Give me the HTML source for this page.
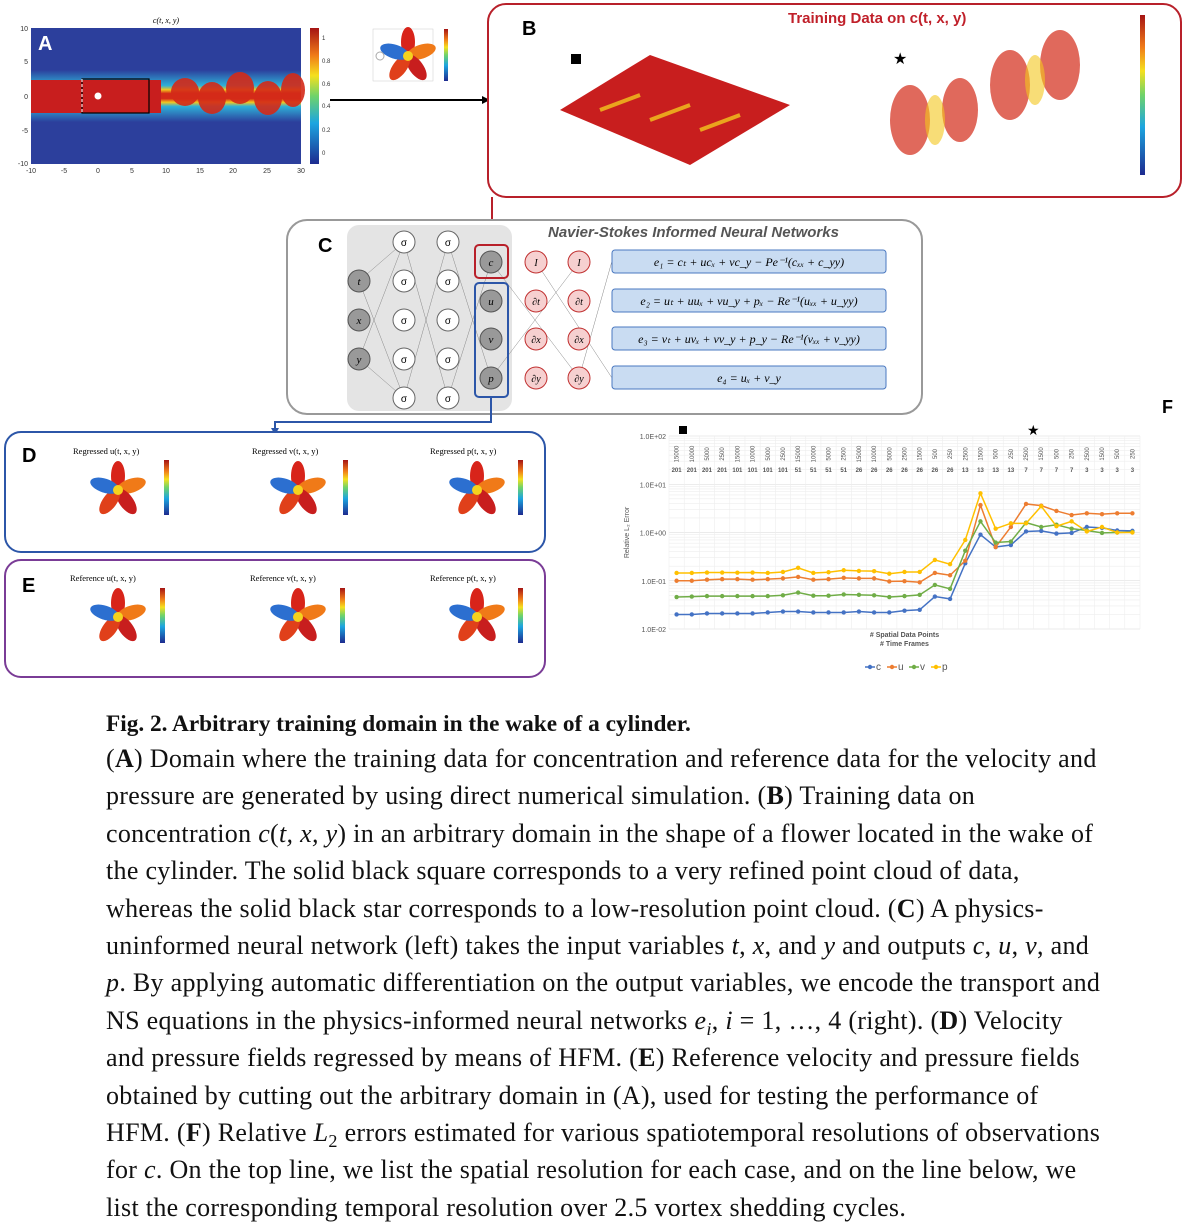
<!DOCTYPE html>
<html><head><meta charset="utf-8"><style>
body{margin:0;width:1193px;height:1222px;background:#fff;position:relative;overflow:hidden;font-family:"Liberation Sans",sans-serif}
.abs{position:absolute}
.cap{position:absolute;left:106px;top:709px;width:1000px;font-family:"Liberation Serif",serif;font-size:26px;letter-spacing:0.3px;line-height:37.4px;color:#111}
.cap .ttl{font-size:23.3px;letter-spacing:0;line-height:31px;font-weight:bold}
.cap .sb{position:relative;top:6px;font-size:70%;line-height:0}
</style></head><body>
<svg class="abs" style="left:0;top:0" width="1193" height="700" viewBox="0 0 1193 700">
<defs>
<linearGradient id="jet" x1="0" y1="1" x2="0" y2="0"><stop offset="0" stop-color="#1d2a8f"/><stop offset=".3" stop-color="#1ca5e0"/><stop offset=".5" stop-color="#6fd36a"/><stop offset=".65" stop-color="#f5e01e"/><stop offset=".8" stop-color="#f07a18"/><stop offset="1" stop-color="#a51414"/></linearGradient>
<linearGradient id="wake" x1="0" y1="0" x2="0" y2="1"><stop offset="0" stop-color="#2c3f9c"/><stop offset=".3" stop-color="#2fb0d8"/><stop offset=".38" stop-color="#f3c61d"/><stop offset=".45" stop-color="#d42a18"/><stop offset=".55" stop-color="#d42a18"/><stop offset=".62" stop-color="#f3c61d"/><stop offset=".7" stop-color="#2fb0d8"/><stop offset="1" stop-color="#2c3f9c"/></linearGradient>
<g id="flower"><ellipse cx="0" cy="-14" rx="7" ry="15" fill="#d8241a"/><ellipse cx="0" cy="-14" rx="7" ry="15" fill="#f07a18" transform="rotate(72)"/><ellipse cx="0" cy="-14" rx="7" ry="15" fill="#c81e1e" transform="rotate(144)"/><ellipse cx="0" cy="-14" rx="7" ry="15" fill="#e0401a" transform="rotate(216)"/><ellipse cx="0" cy="-14" rx="7" ry="15" fill="#2c6fd0" transform="rotate(288)"/><circle r="5" fill="#f5d21e"/></g>
</defs>
<g>
<rect x="31" y="28" width="270" height="136" fill="#2c3f9c"/>
<rect x="31" y="70" width="270" height="52" fill="url(#wake)"/>
<rect x="31" y="80" width="130" height="33" fill="#c81e1e"/>
<g fill="#d42a18" opacity=".9"><ellipse cx="185" cy="92" rx="14" ry="14"/><ellipse cx="212" cy="98" rx="14" ry="16"/><ellipse cx="240" cy="88" rx="14" ry="16"/><ellipse cx="268" cy="98" rx="14" ry="17"/><ellipse cx="293" cy="90" rx="12" ry="17"/></g>
<rect x="82" y="79" width="67" height="34" fill="none" stroke="#000" stroke-width="1.2"/>
<line x1="82" y1="79" x2="82" y2="113" stroke="#fff" stroke-dasharray="3,2"/>
<circle cx="98" cy="96" r="3.5" fill="#fff"/>
<text x="38" y="50" fill="#fff" font-size="20" font-weight="bold">A</text>
<text x="166" y="23" font-size="8" font-family="Liberation Serif" font-style="italic" text-anchor="middle">c(t, x, y)</text>
<g font-size="7" fill="#333" text-anchor="end"><text x="28" y="31">10</text><text x="28" y="64">5</text><text x="28" y="99">0</text><text x="28" y="133">-5</text><text x="28" y="166">-10</text></g>
<g font-size="7" fill="#333" text-anchor="middle"><text x="31" y="173">-10</text><text x="64" y="173">-5</text><text x="98" y="173">0</text><text x="132" y="173">5</text><text x="166" y="173">10</text><text x="200" y="173">15</text><text x="233" y="173">20</text><text x="267" y="173">25</text><text x="301" y="173">30</text></g>
<rect x="310" y="28" width="9" height="136" fill="url(#jet)"/>
<g font-size="6" fill="#333"><text x="322" y="40">1</text><text x="322" y="63">0.8</text><text x="322" y="86">0.6</text><text x="322" y="108">0.4</text><text x="322" y="132">0.2</text><text x="322" y="155">0</text></g>
</g>
<g>
<rect x="373" y="29" width="60" height="52" fill="#fff" stroke="#ccc" stroke-width=".5"/>
<use href="#flower" x="408" y="56"/>
<circle cx="380" cy="56" r="4" fill="none" stroke="#aaa"/>
<rect x="444" y="29" width="4" height="52" fill="url(#jet)"/>
</g>
<line x1="330" y1="100" x2="482" y2="100" stroke="#000" stroke-width="2"/><polygon points="482,96 490,100 482,104" fill="#000"/>
<g>
<rect x="488" y="4" width="693" height="193" rx="18" fill="#fff" stroke="#b8202a" stroke-width="2"/>
<text x="522" y="35" font-size="20" font-weight="bold">B</text>
<text x="788" y="23" font-size="15" font-weight="bold" fill="#c0202a">Training Data on c(t, x, y)</text>
<rect x="571" y="54" width="10" height="10" fill="#000"/>
<text x="893" y="64" font-size="16">★</text>
<polygon points="560,110 650,55 790,105 690,165" fill="#c81e1e"/>
<g stroke="#f3c61d" stroke-width="4" opacity=".8"><line x1="600" y1="110" x2="640" y2="95"/><line x1="650" y1="120" x2="690" y2="105"/><line x1="700" y1="130" x2="740" y2="115"/></g>
<g fill="#d42a18" opacity=".7"><ellipse cx="910" cy="120" rx="20" ry="35"/><ellipse cx="960" cy="110" rx="18" ry="32"/><ellipse cx="1010" cy="85" rx="20" ry="35"/><ellipse cx="1060" cy="65" rx="20" ry="35"/></g>
<g fill="#f3c61d" opacity=".6"><ellipse cx="935" cy="120" rx="10" ry="25"/><ellipse cx="1035" cy="80" rx="10" ry="25"/></g>
<rect x="1140" y="15" width="5" height="160" fill="url(#jet)"/>
</g>
<line x1="492" y1="197" x2="492" y2="240" stroke="#b8202a" stroke-width="2"/>
<g>
<rect x="287" y="220" width="635" height="194" rx="20" fill="#fff" stroke="#999" stroke-width="2"/>
<text x="318" y="252" font-size="20" font-weight="bold">C</text>
<text x="548" y="237" font-size="15" font-style="italic" font-weight="bold" fill="#555">Navier-Stokes Informed Neural Networks</text>
<rect x="347" y="225" width="165" height="186" rx="12" fill="#e4e4e4"/>
<g stroke="#888" stroke-width=".5">
<line x1="359" y1="281" x2="404" y2="242"/><line x1="359" y1="281" x2="404" y2="398"/><line x1="359" y1="359" x2="404" y2="242"/><line x1="359" y1="359" x2="404" y2="398"/><line x1="404" y1="242" x2="448" y2="398"/><line x1="404" y1="398" x2="448" y2="242"/><line x1="448" y1="242" x2="491" y2="378"/><line x1="448" y1="398" x2="491" y2="262"/>
<line x1="491" y1="262" x2="579" y2="378"/><line x1="491" y1="378" x2="579" y2="262"/><line x1="536" y1="262" x2="612" y2="378"/><line x1="579" y1="378" x2="612" y2="261"/>
</g>
<rect x="475" y="245" width="33" height="33" rx="4" fill="none" stroke="#b8202a" stroke-width="2"/>
<rect x="475" y="283" width="33" height="114" rx="4" fill="none" stroke="#2c56a8" stroke-width="2"/>
<g fill="#999" stroke="#555"><circle cx="359" cy="281" r="11"/><circle cx="359" cy="320" r="11"/><circle cx="359" cy="359" r="11"/><circle cx="491" cy="262" r="11"/><circle cx="491" cy="301" r="11"/><circle cx="491" cy="339" r="11"/><circle cx="491" cy="378" r="11"/></g>
<g font-size="11" font-style="italic" font-family="Liberation Serif" text-anchor="middle"><text x="359" y="285">t</text><text x="359" y="324">x</text><text x="359" y="363">y</text><text x="491" y="266">c</text><text x="491" y="305">u</text><text x="491" y="343">v</text><text x="491" y="382">p</text></g>
<g fill="#fff" stroke="#666"><circle cx="404" cy="242" r="11"/><circle cx="404" cy="281" r="11"/><circle cx="404" cy="320" r="11"/><circle cx="404" cy="359" r="11"/><circle cx="404" cy="398" r="11"/><circle cx="448" cy="242" r="11"/><circle cx="448" cy="281" r="11"/><circle cx="448" cy="320" r="11"/><circle cx="448" cy="359" r="11"/><circle cx="448" cy="398" r="11"/></g>
<g font-size="10" text-anchor="middle"><text x="404" y="246">σ</text><text x="404" y="285">σ</text><text x="404" y="324">σ</text><text x="404" y="363">σ</text><text x="404" y="402">σ</text><text x="448" y="246">σ</text><text x="448" y="285">σ</text><text x="448" y="324">σ</text><text x="448" y="363">σ</text><text x="448" y="402">σ</text></g>
<g fill="#f6d0d0" stroke="#c03030"><circle cx="536" cy="262" r="11"/><circle cx="536" cy="301" r="11"/><circle cx="536" cy="339" r="11"/><circle cx="536" cy="378" r="11"/><circle cx="579" cy="262" r="11"/><circle cx="579" cy="301" r="11"/><circle cx="579" cy="339" r="11"/><circle cx="579" cy="378" r="11"/></g>
<g font-size="10" font-style="italic" font-family="Liberation Serif" text-anchor="middle"><text x="536" y="266">I</text><text x="536" y="305">∂t</text><text x="536" y="343">∂x</text><text x="536" y="382">∂y</text><text x="579" y="266">I</text><text x="579" y="305">∂t</text><text x="579" y="343">∂x</text><text x="579" y="382">∂y</text></g>
<g fill="#c9dcf2" stroke="#4a78c0"><rect x="612" y="250" width="274" height="23" rx="3"/><rect x="612" y="289" width="274" height="23" rx="3"/><rect x="612" y="327" width="274" height="23" rx="3"/><rect x="612" y="366" width="274" height="23" rx="3"/></g>
<g font-size="12" font-style="italic" font-family="Liberation Serif" text-anchor="middle"><text x="749" y="266">e₁ = cₜ + ucₓ + vc_y − Pe⁻¹(cₓₓ + c_yy)</text><text x="749" y="305">e₂ = uₜ + uuₓ + vu_y + pₓ − Re⁻¹(uₓₓ + u_yy)</text><text x="749" y="343">e₃ = vₜ + uvₓ + vv_y + p_y − Re⁻¹(vₓₓ + v_yy)</text><text x="749" y="382">e₄ = uₓ + v_y</text></g>
</g>
<polyline points="491,397 491,422 275,422 275,432" fill="none" stroke="#2c56a8" stroke-width="2"/><polygon points="271,428 275,435 279,428" fill="#2c56a8"/>
<g>
<rect x="5" y="432" width="540" height="120" rx="16" fill="#fff" stroke="#2c56a8" stroke-width="2"/>
<text x="22" y="462" font-size="20" font-weight="bold">D</text>
<g font-size="8.5" font-family="Liberation Serif"><text x="73" y="454">Regressed u(t, x, y)</text><text x="252" y="454">Regressed v(t, x, y)</text><text x="430" y="454">Regressed p(t, x, y)</text></g>
<use href="#flower" x="118" y="490"/><use href="#flower" x="298" y="490"/><use href="#flower" x="477" y="490"/>
<rect x="164" y="460" width="5" height="55" fill="url(#jet)"/><rect x="343" y="460" width="5" height="55" fill="url(#jet)"/><rect x="518" y="460" width="5" height="55" fill="url(#jet)"/>
</g>
<g>
<rect x="5" y="560" width="540" height="117" rx="16" fill="#fff" stroke="#7a3c96" stroke-width="2"/>
<text x="22" y="592" font-size="20" font-weight="bold">E</text>
<g font-size="8.5" font-family="Liberation Serif"><text x="70" y="581">Reference u(t, x, y)</text><text x="250" y="581">Reference v(t, x, y)</text><text x="430" y="581">Reference p(t, x, y)</text></g>
<use href="#flower" x="118" y="617"/><use href="#flower" x="298" y="617"/><use href="#flower" x="477" y="617"/>
<rect x="160" y="588" width="5" height="55" fill="url(#jet)"/><rect x="340" y="588" width="5" height="55" fill="url(#jet)"/><rect x="518" y="588" width="5" height="55" fill="url(#jet)"/>
</g>
</svg>

<svg class="abs" id="chartF" style="left:600px;top:395px" width="593" height="290"></svg>

<div class="cap"><div class="ttl">Fig. 2. Arbitrary training domain in the wake of a cylinder.</div>(<b>A</b>) Domain where the training data for concentration and reference data for the velocity and pressure are generated by using direct numerical simulation. (<b>B</b>) Training data on concentration <i>c</i>(<i>t, x, y</i>) in an arbitrary domain in the shape of a flower located in the wake of the cylinder. The solid black square corresponds to a very refined point cloud of data, whereas the solid black star corresponds to a low-resolution point cloud. (<b>C</b>) A physics-uninformed neural network (left) takes the input variables <i>t</i>, <i>x</i>, and <i>y</i> and outputs <i>c</i>, <i>u</i>, <i>v</i>, and <i>p</i>. By applying automatic differentiation on the output variables, we encode the transport and NS equations in the physics-informed neural networks <i>e<span class="sb">i</span></i>, <i>i</i> = 1, …, 4 (right). (<b>D</b>) Velocity and pressure fields regressed by means of HFM. (<b>E</b>) Reference velocity and pressure fields obtained by cutting out the arbitrary domain in (A), used for testing the performance of HFM. (<b>F</b>) Relative <i>L</i><span class="sb">2</span> errors estimated for various spatiotemporal resolutions of observations for <i>c</i>. On the top line, we list the spatial resolution for each case, and on the line below, we list the corresponding temporal resolution over 2.5 vortex shedding cycles.</div>

<script>
const spatial=[15000,10000,5000,2500,15000,10000,5000,2500,15000,10000,5000,2500,15000,10000,5000,2500,1500,500,250,2500,1500,500,250,2500,1500,500,250,2500,1500,500,250];
const frames=[201,201,201,201,101,101,101,101,51,51,51,51,26,26,26,26,26,26,26,13,13,13,13,7,7,7,7,3,3,3,3];
const cErr=[.02,.02,.021,.021,.021,.021,.022,.023,.023,.022,.022,.022,.023,.022,.022,.024,.025,.047,.042,.23,.9,.5,.55,1.05,1.08,.95,.98,1.3,1.25,1.1,1.08];
const uErr=[.10,.10,.105,.108,.108,.105,.108,.112,.12,.105,.108,.115,.112,.112,.097,.098,.093,.145,.13,.26,3.7,.5,1.3,3.9,3.6,2.8,2.3,2.5,2.4,2.5,2.5];
const vErr=[.046,.047,.048,.048,.048,.048,.048,.05,.057,.049,.049,.052,.051,.05,.046,.048,.051,.082,.068,.42,1.7,.62,.65,1.6,1.3,1.45,1.2,1.1,.98,1.0,1.02];
const pErr=[.145,.145,.148,.148,.147,.148,.145,.152,.185,.145,.15,.165,.16,.158,.14,.152,.152,.27,.22,.7,6.5,1.2,1.55,1.55,3.5,1.35,1.7,1.05,1.3,1.0,1.0];
const yTicks=[100,10,1,0.1,0.01];
const yTickLabels=["1.0E+02","1.0E+01","1.0E+00","1.0E-01","1.0E-02"];
const NS="http://www.w3.org/2000/svg";
const svg=document.getElementById('chartF');
const L=69,R=540,T=41,B=234;
const xs=i=>L+(i+0.5)*(R-L)/spatial.length;
const ys=v=>B-(Math.log10(v)+2)/4*(B-T);
function mk(tag,attrs,parent){const e=document.createElementNS(NS,tag);for(const k in attrs)e.setAttribute(k,attrs[k]);(parent||svg).appendChild(e);return e;}
let t=mk('text',{x:562,y:18,'font-size':18,'font-weight':'bold','font-family':'Liberation Sans'});t.textContent='F';


mk('rect',{x:79,y:31,width:8,height:8,fill:'#000'});
let st=mk('text',{x:427,y:40,'font-size':14});st.textContent='★';
for(let d=0;d<4;d++){for(let k=1;k<10;k++){const v=Math.pow(10,d-2)*k;mk('line',{x1:L,x2:R,y1:ys(v),y2:ys(v),stroke:k==1?'#d8d8d8':'#eee','stroke-width':.6});}}
mk('line',{x1:L,x2:R,y1:ys(100),y2:ys(100),stroke:'#d8d8d8','stroke-width':.6});
for(let i=0;i<=spatial.length;i++){const x=L+i*(R-L)/spatial.length;mk('line',{x1:x,x2:x,y1:T,y2:B,stroke:'#eee','stroke-width':.6});}
yTicks.forEach((v,i)=>{const e=mk('text',{x:L-3,y:ys(v)+3,'font-size':7,'text-anchor':'end',fill:'#555'});e.textContent=yTickLabels[i];

});
spatial.forEach((s,i)=>{const x=xs(i);const e=mk('text',{x:0,y:0,'font-size':6,'text-anchor':'middle',fill:'#555',transform:`translate(${x+2},${T+18}) rotate(-90)`});e.textContent=s;


const f=mk('text',{x:x,y:T+36,'font-size':6,'text-anchor':'middle',fill:'#555','font-weight':'bold'});f.textContent=frames[i];

});
const yl=mk('text',{x:0,y:0,'font-size':7,'text-anchor':'middle',fill:'#555',transform:`translate(${L-40},${ys(1)}) rotate(-90)`});yl.textContent='Relative L₂ Error';
const x1=mk('text',{x:(L+R)/2,y:B+8,'font-size':7,'text-anchor':'middle',fill:'#555','font-weight':'bold'});x1.textContent='# Spatial Data Points';
const x2=mk('text',{x:(L+R)/2,y:B+17,'font-size':7,'text-anchor':'middle',fill:'#555','font-weight':'bold'});x2.textContent='# Time Frames';
const series=[['c',cErr,'#4472c4'],['u',uErr,'#ed7d31'],['v',vErr,'#70ad47'],['p',pErr,'#ffc000']];
series.forEach(([n,vals,col],si)=>{
 const g=mk('g',{});
 
 
 mk('polyline',{points:vals.map((v,i)=>xs(i)+','+ys(v)).join(' '),fill:'none',stroke:col,'stroke-width':1.5},g);
 vals.forEach((v,i)=>{const m=mk('circle',{cx:xs(i),cy:ys(v),r:2.2,fill:col},g);
  
  });
 const lx=265+si*22;
 mk('line',{x1:lx,x2:lx+10,y1:272,y2:272,stroke:col,'stroke-width':1.5});
 mk('circle',{cx:lx+5,cy:272,r:2.2,fill:col});
 const lt=mk('text',{x:lx+11,y:275,'font-size':10,fill:'#555'});lt.textContent=n;
 
 
});
</script>
</body></html>
